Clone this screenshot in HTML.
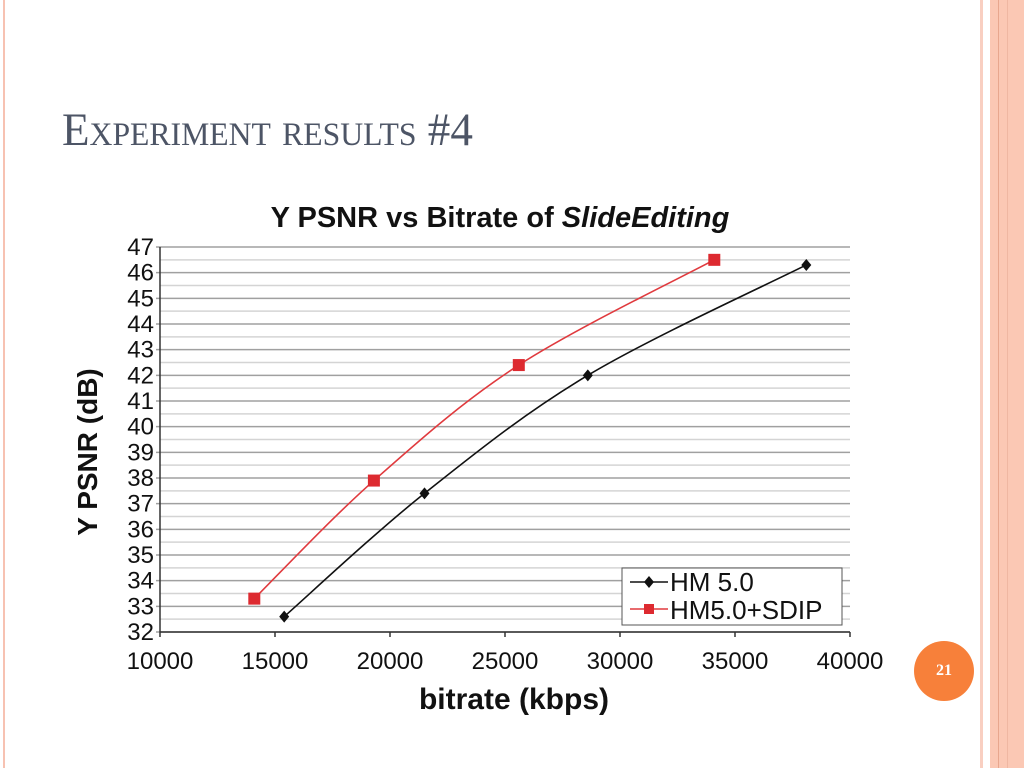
<!DOCTYPE html>
<html><head><meta charset="utf-8"><style>
body{margin:0;width:1024px;height:768px;background:#fff;position:relative;overflow:hidden;font-family:"Liberation Sans",sans-serif}
.abs{position:absolute}
</style></head><body>
<div class="abs" style="left:3px;top:0;width:2px;height:768px;background:#f7c2b2"></div>
<div class="abs" style="left:980px;top:0;width:3px;height:768px;background:#f9cfc1"></div>
<div class="abs" style="left:990px;top:0;width:34px;height:768px;background:#fbc8b4"></div>
<div class="abs" style="left:998px;top:0;width:1px;height:768px;background:#e8a78e"></div>
<div class="abs" style="left:1007px;top:0;width:1px;height:768px;background:#efb7a2"></div>
<div class="abs" style="left:62px;top:103px;font-family:'Liberation Serif',serif;font-size:47px;color:#4d5566;font-variant:small-caps;transform:scaleX(0.96);transform-origin:left;white-space:nowrap">Experiment results #4</div>
<div class="abs" style="left:914px;top:641px;width:60px;height:60px;border-radius:50%;background:#f7803a;color:#fff;font-family:'Liberation Serif',serif;font-weight:bold;font-size:16px;line-height:60px;text-align:center">21</div>
<svg class="abs" style="left:0;top:0" width="1024" height="768">
<g id="g"></g>
</svg>
<script>
const yTicks=[32,33,34,35,36,37,38,39,40,41,42,43,44,45,46,47];
const xTicks=[10000,15000,20000,25000,30000,35000,40000];
const hmX=[15400,21500,28600,38100];
const hmY=[32.6,37.4,42.0,46.3];
const sdX=[14100,19300,25600,34100];
const sdY=[33.3,37.9,42.4,46.5];
const L=160,R=850,T=247,B=632;
const sx=v=>L+(v-10000)/30000*(R-L);
const sy=v=>B-(v-32)/15*(B-T);
const g=document.getElementById('g');
const NS='http://www.w3.org/2000/svg';
function mk(t,a,txt){const e=document.createElementNS(NS,t);for(const k in a)e.setAttribute(k,a[k]);if(txt!==undefined)e.textContent=txt;g.appendChild(e);return e;}
let e;
for(let v=32.5;v<47;v+=1){e=mk('line',{x1:L,x2:R,y1:sy(v),y2:sy(v),stroke:'#d4d4d4','stroke-width':1.5});

}
yTicks.forEach(v=>{e=mk('line',{x1:L-4,x2:R,y1:sy(v),y2:sy(v),stroke:'#a0a0a0','stroke-width':1.5});


e=mk('text',{x:L-6,y:sy(v)+8,'text-anchor':'end','font-size':24,fill:'#111'},v);

});
xTicks.forEach(v=>{e=mk('line',{x1:sx(v),x2:sx(v),y1:B,y2:B+5,stroke:'#333','stroke-width':1.5});


e=mk('text',{x:sx(v),y:B+37,'text-anchor':'middle','font-size':24,fill:'#111'},v);

});
e=mk('line',{x1:L,x2:L,y1:T,y2:B,stroke:'#333','stroke-width':1.5});


e=mk('line',{x1:L,x2:R,y1:B,y2:B,stroke:'#333','stroke-width':1.5});


function smooth(xs,ys){const p=xs.map((x,i)=>[sx(x),sy(ys[i])]);let d='M'+p[0];for(let i=0;i<p.length-1;i++){const p0=p[i-1]||p[i],p1=p[i],p2=p[i+1],p3=p[i+2]||p2;const c1=[p1[0]+(p2[0]-p0[0])/6,p1[1]+(p2[1]-p0[1])/6],c2=[p2[0]-(p3[0]-p1[0])/6,p2[1]-(p3[1]-p1[1])/6];d+=' C'+c1+' '+c2+' '+p2;}return d;}
e=mk('path',{d:smooth(hmX,hmY),fill:'none',stroke:'#111','stroke-width':1.6});


e=mk('path',{d:smooth(sdX,sdY),fill:'none',stroke:'#e03a3e','stroke-width':1.6});


hmX.forEach((x,i)=>{const cx=sx(x),cy=sy(hmY[i]);e=mk('path',{d:`M${cx} ${cy-6}L${cx+5} ${cy}L${cx} ${cy+6}L${cx-5} ${cy}Z`,fill:'#111'});

});
sdX.forEach((x,i)=>{e=mk('rect',{x:sx(x)-6,y:sy(sdY[i])-6,width:12,height:12,fill:'#dd2a30'});

});
e=mk('rect',{x:622,y:568,width:220,height:57,fill:'#fff',stroke:'#555','stroke-width':1});


e=mk('line',{x1:630,x2:668,y1:582,y2:582,stroke:'#111','stroke-width':1.6});


e=mk('path',{d:'M649 576L654 582L649 588L644 582Z',fill:'#111'});


e=mk('text',{x:670,y:591,'font-size':26,fill:'#111'},'HM 5.0');


e=mk('line',{x1:630,x2:668,y1:609,y2:609,stroke:'#e03a3e','stroke-width':1.6});


e=mk('rect',{x:644,y:604,width:10,height:10,fill:'#dd2a30'});


e=mk('text',{x:670,y:619,'font-size':26,fill:'#111'},'HM5.0+SDIP');


e=mk('text',{x:500,y:227,'text-anchor':'middle','font-size':29,'font-weight':'bold',fill:'#111'});
e.innerHTML='Y PSNR vs Bitrate of <tspan font-style="italic">SlideEditing</tspan>';


e=mk('text',{x:97,y:452,'text-anchor':'middle','font-size':28,'font-weight':'bold',fill:'#111',transform:'rotate(-90 97 452)'},'Y PSNR (dB)');


e=mk('text',{x:514,y:709,'text-anchor':'middle','font-size':30,'font-weight':'bold',fill:'#111'},'bitrate (kbps)');


</script>
</body></html>
